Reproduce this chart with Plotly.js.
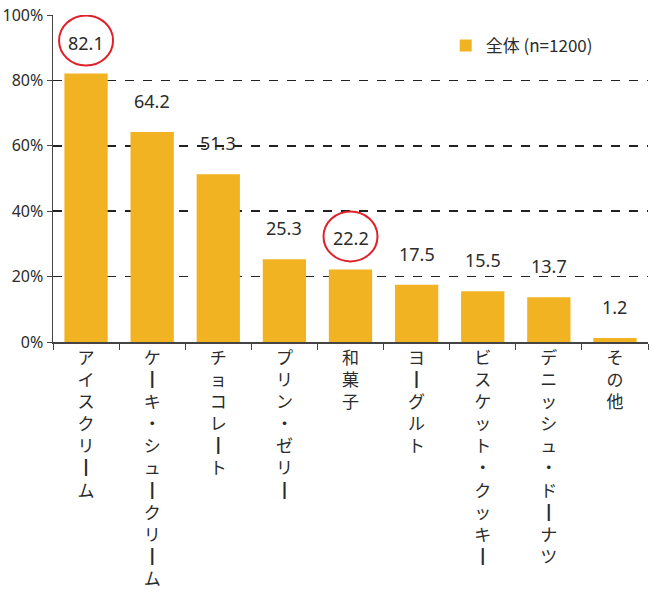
<!DOCTYPE html>
<html>
<head>
<meta charset="utf-8">
<script src="https://cdn.plot.ly/plotly-3.0.1.min.js"></script>
<style>html,body{margin:0;padding:0;background:#fff;}#chart{width:652px;height:595px;}</style>
</head>
<body>
<div id="chart"></div>
<script>
const categories = ["アイスクリーム", "ケーキ・シュークリーム", "チョコレート", "プリン・ゼリー", "和菓子", "ヨーグルト", "ビスケット・クッキー", "デニッシュ・ドーナツ", "その他"];
const values = [82.1, 64.2, 51.3, 25.3, 22.2, 17.5, 15.5, 13.7, 1.2];
const highlighted = ["アイスクリーム", "和菓子"];
const seriesName = "全体 (n=1200)";
const yTickVals = [0, 20, 40, 60, 80, 100];
const yTickText = ["0%", "20%", "40%", "60%", "80%", "100%"];

const numFont = "'Noto Sans', sans-serif";
const jpFont = "'Noto Sans CJK JP', sans-serif";
const barColor = "#F2B323";
const textColor = "#2b2b2b";

function verticalText(s) {
  return Array.from(s).map(c => c === "ー" ? "┃" : c).join("<br>");
}

const LABEL_SHIFT = 31;

const trace = {
  type: "bar",
  x: categories,
  y: values,
  name: seriesName,
  marker: { color: barColor },
  width: 0.655,
  showlegend: true,
  hoverinfo: "x+y"
};

const annotations = categories.map((c, i) => ({
  x: c, y: values[i], xref: "x", yref: "y",
  text: values[i].toFixed(1),
  showarrow: false,
  yanchor: "middle",
  yshift: LABEL_SHIFT,
  font: { family: numFont, size: 18, color: textColor }
}));

const shapes = highlighted.map(c => {
  const i = categories.indexOf(c);
  return {
    type: "circle",
    xref: "x", yref: "y",
    xsizemode: "pixel", ysizemode: "pixel",
    xanchor: c, yanchor: values[i],
    x0: -27, x1: 27,
    y0: LABEL_SHIFT - 23, y1: LABEL_SHIFT + 27,
    line: { color: "#E0202A", width: 2 }
  };
});

const layout = {
  width: 652, height: 595,
  margin: { l: 53, r: 4, t: 15, b: 253 },
  paper_bgcolor: "#ffffff",
  plot_bgcolor: "#ffffff",
  xaxis: {
    type: "category",
    range: [-0.5, 8.5],
    tickvals: categories,
    ticktext: categories.map(verticalText),
    tickson: "boundaries",
    ticks: "outside",
    ticklen: 6,
    tickcolor: "#444",
    showline: true,
    linecolor: "#444",
    linewidth: 1.5,
    showgrid: false,
    tickfont: { family: jpFont, size: 17, color: textColor },
    tickangle: 0
  },
  yaxis: {
    range: [0, 100],
    tickvals: yTickVals,
    ticktext: yTickText,
    ticks: "outside",
    ticklen: 5,
    tickcolor: "#444",
    showline: true,
    linecolor: "#444",
    linewidth: 1.5,
    showgrid: true,
    gridcolor: "#222",
    gridwidth: 1.6,
    griddash: "dash",
    zeroline: false,
    tickfont: { family: numFont, size: 16, color: textColor }
  },
  legend: {
    x: 0.66, y: 0.905, xanchor: "left", yanchor: "middle",
    bgcolor: "rgba(255,255,255,0)",
    font: { family: jpFont, size: 17, color: textColor },
    itemwidth: 30
  },
  annotations: annotations,
  shapes: shapes,
  showlegend: true
};

Plotly.newPlot("chart", [trace], layout, { displayModeBar: false, staticPlot: true });
</script>
</body>
</html>
